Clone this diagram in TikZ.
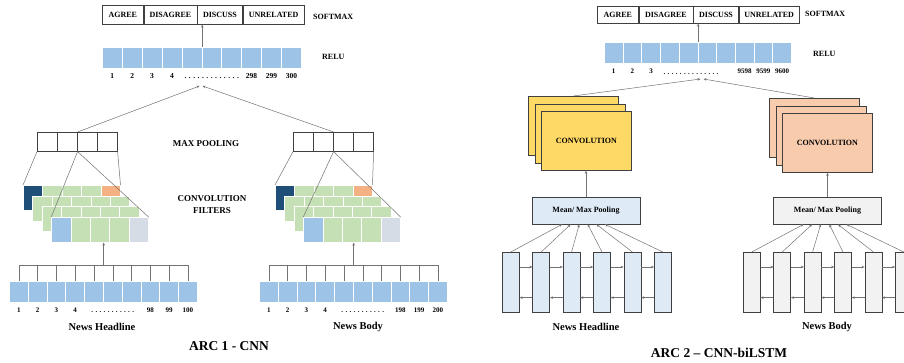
\documentclass[tikz,border=0pt]{standalone}
\usepackage{fontspec}
\setmainfont{Liberation Serif}
\usepackage{xcolor}
\usepackage{tikz}
\usetikzlibrary{positioning,arrows.meta}

\definecolor{barblue}{HTML}{9DC3E6}
\definecolor{filtgreen}{HTML}{C5E0B4}
\definecolor{darkblue}{HTML}{1F4E79}
\definecolor{filtorange}{HTML}{F4B183}
\definecolor{filtgrey}{HTML}{D6DCE5}
\definecolor{convyellow}{HTML}{FFD966}
\definecolor{convpeach}{HTML}{F8CBAD}
\definecolor{lstmblue}{HTML}{DEEBF7}
\definecolor{lstmgrey}{HTML}{F2F2F2}
\definecolor{edge}{HTML}{404040}

\begin{document}
\begin{tikzpicture}[x=1pt,y=-1pt,
    outbox/.style={draw=edge,line width=0.6pt,inner sep=0pt,font=\bfseries\fontsize{8}{8}\selectfont},
    barcell/.style={draw=white,line width=0.7pt,fill=barblue,minimum height=21pt,inner sep=0pt,anchor=north west},
    filtcell/.style={draw=white,line width=0.5pt,minimum width=19.4pt,minimum height=25pt,inner sep=0pt,anchor=north west},
    poolcell/.style={draw=edge,line width=0.6pt,fill=white,minimum width=20pt,minimum height=19pt,inner sep=0pt,anchor=north west},
    convbox/.style={draw=edge,line width=0.7pt,minimum width=90pt,minimum height=59pt,inner sep=0pt,anchor=north west},
    poolbox/.style={draw=edge,line width=0.7pt,minimum width=108pt,minimum height=27pt,inner sep=0pt,font=\bfseries\fontsize{8}{8}\selectfont},
    lstm/.style={draw=edge,line width=0.6pt,minimum width=17pt,minimum height=60pt,inner sep=0pt,anchor=north west},
    tag/.style={inner sep=0pt,font=\bfseries\fontsize{8}{8}\selectfont},
    bigtag/.style={inner sep=0pt,align=center,font=\bfseries\fontsize{9}{12}\selectfont},
    num/.style={inner sep=0pt,text height=5pt,text depth=0pt,font=\bfseries\fontsize{7}{7}\selectfont},
    numb/.style={num,font=\bfseries\fontsize{7.5}{7.5}\selectfont},
    caption/.style={inner sep=0pt,font=\bfseries\fontsize{10.5}{12}\selectfont},
    title/.style={inner sep=0pt,font=\bfseries\fontsize{13.5}{15}\selectfont},
    link/.style={draw=black!55,line width=0.5pt},
    arr/.style={link,-{Stealth[length=3pt,width=2.6pt]}}]

    \clip (0,0) rectangle (904,362);
    \fill[white] (0,0) rectangle (904,362);

    % ARC 1 - CNN
    \node[outbox,minimum width=41pt,minimum height=19pt,anchor=north west] (a-agree) at (102,5) {AGREE};
    \node[outbox,minimum width=53pt,minimum height=19pt,right=0pt of a-agree] (a-disagree) {DISAGREE};
    \node[outbox,minimum width=45pt,minimum height=19pt,right=0pt of a-disagree] (a-discuss) {DISCUSS};
    \node[outbox,minimum width=61pt,minimum height=19pt,right=0pt of a-discuss] (a-unrel) {UNRELATED};
    \node[tag,anchor=west] (a-softmax) at (313,17) {SOFTMAX};

    \foreach \i in {1,...,10}
        \node[barcell,minimum width=19.9pt] (a-r\i) at ({102+19.9*(\i-1)},47) {};
    \node[tag,anchor=west] (a-relu) at (322,57) {RELU};
    \foreach \i/\t in {1/1,2/2,3/3,4/4,6/{. . . . . . . . . . . . .},8/298,9/299,10/300}
        \node[numb,below=5pt of a-r\i] (a-n\i) {\t};
    \draw[arr] (a-r5.north east) -- (a-r5.north east |- a-discuss.south);

    % max pooling and filters, headline (a) and body (b)
    \foreach \s/\dx in {a/37,b/293}
        \foreach \i in {1,...,4}
            \node[poolcell] (\s-mp\i) at ({\dx+20*(\i-1)},132) {};
    \foreach \s/\dx in {a/0,b/252}
        \foreach \k/\ca/\cb in {0/darkblue/filtorange,1/filtgreen/filtgreen,2/filtgreen/filtgreen,3/barblue/filtgrey}
            \foreach \j/\c in {1/\ca,2/filtgreen,3/filtgreen,4/filtgreen,5/\cb}
                \node[filtcell,fill=\c] (\s-f\k\j) at ({\dx+23+9.4*\k+19.4*(\j-1)},{185+10.7*\k}) {};
    \foreach \s in {a,b} {
        \draw[link] (\s-mp1.south west) -- (\s-f01.north west);
        \draw[link] (\s-mp4.south east) -- (\s-f05.north east);
        \draw[link] (\s-mp2.south east) -- (\s-f31.north west);
        \draw[link] (\s-mp2.south east) -- (\s-f35.north east);
    }
    \coordinate (a-join) at (201,86);
    \draw[arr] (a-mp2.north east) -- ([xshift=-1.5pt]a-join);
    \draw[arr] (b-mp2.north east) -- ([xshift=1.5pt]a-join);
    \node[bigtag] (a-maxpool) at (206,144) {MAX POOLING};
    \node[bigtag] (a-filters) at (212,205) {CONVOLUTION\\FILTERS};

    % inputs
    \foreach \s/\dx in {a/9,b/259} {
        \foreach \i in {1,...,10}
            \node[barcell,minimum width=18.8pt] (\s-in\i) at ({\dx+18.8*(\i-1)},281) {};
        \draw[link] (\s-in1.north) -- ++(0,-16) -| (\s-in10.north);
        \foreach \i in {2,...,9}
            \draw[link] (\s-in\i.north) -- ++(0,-16);
        \draw[arr] ([yshift=16pt]\s-in5.north east) -- (\s-in5.north east |- \s-f31.south);
    }
    \foreach \i/\t in {1/1,2/2,3/3,4/4,6/{. . . . . . . . . . .},8/98,9/99,10/100}
        \node[num,below=5pt of a-in\i] (a-m\i) {\t};
    \foreach \i/\t in {1/1,2/2,3/3,4/4,6/{. . . . . . . . . . .},8/198,9/199,10/200}
        \node[num,below=5pt of b-in\i] (b-m\i) {\t};
    \node[caption] (a-head) at (102,327) {News Headline};
    \node[caption] (b-body) at (358,327) {News Body};
    \node[title] (a-title) at (229,346) {ARC 1 - CNN};

    % ARC 2 - CNN-biLSTM
    \node[outbox,minimum width=41pt,minimum height=17pt,anchor=north west] (c-agree) at (597,6) {AGREE};
    \node[outbox,minimum width=54pt,minimum height=17pt,right=0pt of c-agree] (c-disagree) {DISAGREE};
    \node[outbox,minimum width=45pt,minimum height=17pt,right=0pt of c-disagree] (c-discuss) {DISCUSS};
    \node[outbox,minimum width=60pt,minimum height=17pt,right=0pt of c-discuss] (c-unrel) {UNRELATED};
    \node[tag,anchor=west] (c-softmax) at (805,14) {SOFTMAX};

    \foreach \i in {1,...,10}
        \node[barcell,minimum width=18.7pt] (c-r\i) at ({604+18.7*(\i-1)},42) {};
    \node[tag,anchor=west] (c-relu) at (813,54) {RELU};
    \foreach \i/\t in {1/1,2/2,3/3,8/9598,9/9599,10/9600}
        \node[num,below=5pt of c-r\i] (c-n\i) {\t};
    \node[num] (c-dots) at (691,72) {. . . . . . . . . . . . . .};
    \draw[arr] (c-r5.north east) -- (c-r5.north east |- c-discuss.south);

    % convolution stacks
    \foreach \s/\x/\y/\col in {c/528/96/convyellow,d/769/98/convpeach}
        \foreach \k in {0,1,2}
            \node[convbox,fill=\col] (\s-cv\k) at ({\x+6.5*\k},{\y+7.5*\k}) {};
    \node[tag] (c-convtxt) at (c-cv2.center) {CONVOLUTION};
    \node[tag] (d-convtxt) at (d-cv2.center) {CONVOLUTION};
    \coordinate (c-join) at (702,79);
    \draw[arr] (c-cv0.north) -- ([xshift=-1.5pt]c-join);
    \draw[arr] (d-cv0.north) -- ([xshift=1.5pt]c-join);

    % pooling and biLSTM
    \node[poolbox,fill=lstmblue] (c-pool) at (586,210.5) {Mean/ Max Pooling};
    \node[poolbox,fill=lstmgrey] (d-pool) at (827.5,210.5) {Mean/ Max Pooling};
    \foreach \s/\x/\col in {c/502/lstmblue,d/743/lstmgrey} {
        \draw[arr] (\s-pool.north) -- (\s-pool.north |- \s-cv2.south);
        \foreach \i in {1,...,6} {
            \node[lstm,fill=\col] (\s-l\i) at ({\x+30.4*(\i-1)},252) {};
            \draw[arr] (\s-l\i.north) -- ([xshift={8.6*\i-32.6}]\s-pool.south);
        }
        \foreach \i [count=\j from 2] in {1,...,5} {
            \draw[arr] ([yshift=-15pt]\s-l\i.north east) -- ([yshift=-15pt]\s-l\j.north west);
            \draw[arr] ([yshift=15pt]\s-l\j.south west) -- ([yshift=15pt]\s-l\i.south east);
        }
    }
    \node[caption] (c-head) at (586,327) {News Headline};
    \node[caption] (d-body) at (827,327) {News Body};
    \node[title] (c-title) at (719,353) {ARC 2 \textendash{} CNN-biLSTM};
\end{tikzpicture}
\end{document}
